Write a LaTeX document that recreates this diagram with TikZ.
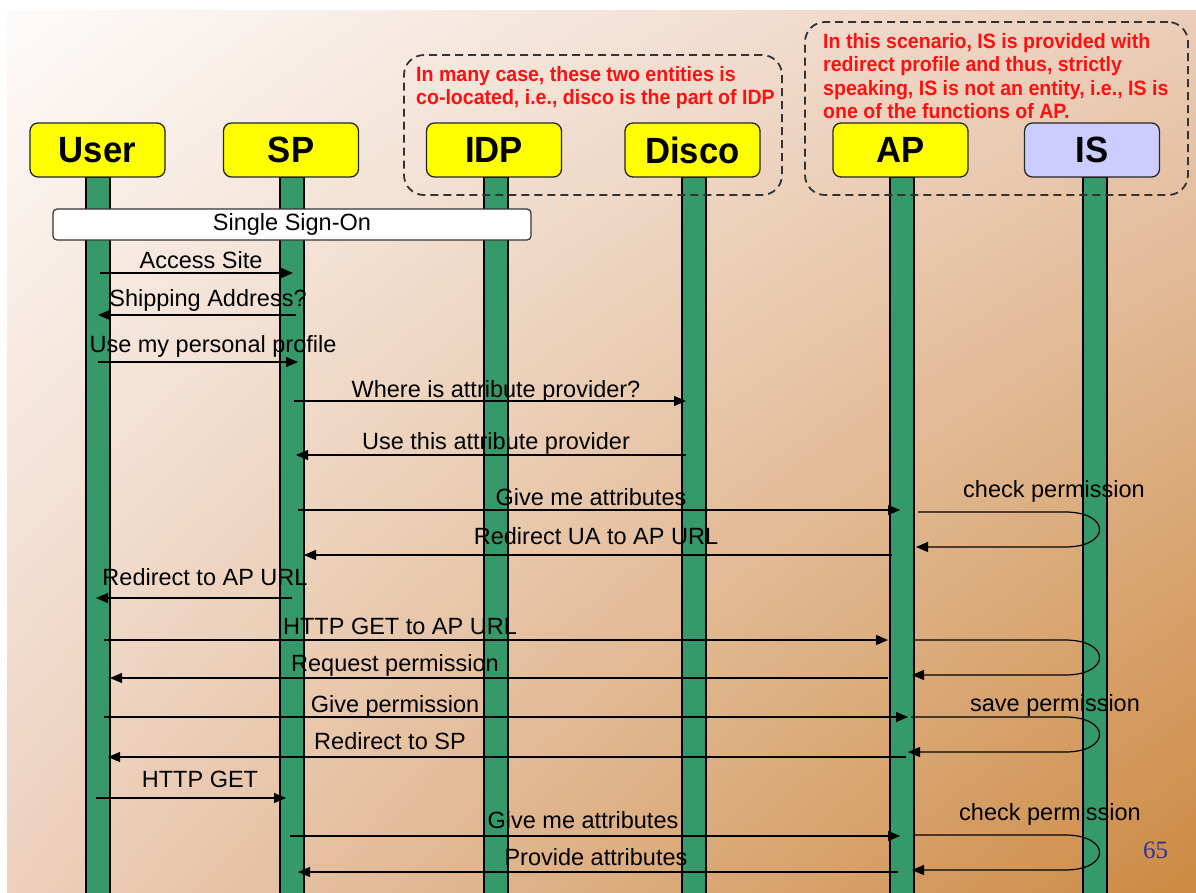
\documentclass[tikz,border=0pt]{standalone}
\usepackage{fontspec}
\setmainfont{Liberation Sans}
\newfontfamily\headfont[FakeStretch=0.95]{Liberation Sans}
\newfontfamily\notefont[FakeStretch=0.94]{Liberation Sans}
\newfontfamily\pagefont{Liberation Serif}
\usetikzlibrary{arrows.meta,calc,shadings}
\definecolor{lifegreen}{HTML}{35996A}
\definecolor{actoryellow}{HTML}{FFFF00}
\definecolor{islavender}{HTML}{CCCCFF}
\definecolor{notered}{HTML}{FF1010}
\definecolor{pagenum}{HTML}{333399}
\definecolor{bgTL}{HTML}{FDFBFA}
\definecolor{bgTR}{HTML}{EBCDB9}
\definecolor{bgBL}{HTML}{EDD0BD}
\definecolor{bgBR}{HTML}{CC8A42}
\begin{document}
\begin{tikzpicture}[x=1pt,y=-1pt,
  actor/.style={draw=black!85, line width=1.3pt, rounded corners=8pt, fill=actoryellow,
    minimum width=135pt, minimum height=54pt, inner sep=0pt,
    font=\headfont\bfseries\fontsize{36.5}{40}\selectfont},
  lifebar/.style={draw=black, line width=1.1pt, fill=lifegreen, minimum width=24pt,
    minimum height=720pt, inner sep=0pt, anchor=north},
  notebox/.style={draw=black!80, line width=1.8pt, dash pattern=on 8pt off 5pt,
    rounded corners=20pt, inner sep=0pt},
  notetext/.style={text=notered, align=left, anchor=north west, inner sep=0pt,
    font=\notefont\bfseries\fontsize{20.8}{23.5}\selectfont},
  msg/.style={draw=black, line width=1.2pt, -{Triangle[length=12pt,width=10pt]}},
  msglabel/.style={anchor=base, inner sep=0pt, font=\fontsize{23.5}{28}\selectfont},
  frame/.style={draw=black!80, line width=1.2pt, fill=white, rounded corners=4pt,
    inner sep=0pt, font=\fontsize{23.5}{28}\selectfont}
]
\useasboundingbox (0,0) rectangle (1196,892);
\fill[white] (0,0) rectangle (1196,892);
\shade[upper left=bgTL, upper right=bgTR, lower left=bgBL, lower right=bgBR]
  (7,10) rectangle (1196,892);

% lifelines
\node[lifebar] (userbar)  at (98,177)  {};
\node[lifebar] (spbar)    at (292,177) {};
\node[lifebar] (idpbar)   at (496,177) {};
\node[lifebar] (discobar) at (694,177) {};
\node[lifebar] (apbar)    at (902,177) {};
\node[lifebar] (isbar)    at (1095,177) {};

% participants
\node[actor] (user)  at (97.5,150)  {User};
\node[actor] (sp)    at (291,150)   {SP};
\node[actor] (idp)   at (494,150)   {IDP};
\node[actor] (disco) at (692.5,150) {Disco};
\node[actor] (ap)    at (900.5,150) {AP};
\node[actor, fill=islavender] (is) at (1092,150) {IS};

% remarks
\node[notebox, minimum width=378pt, minimum height=140pt] (note1) at (593,125) {};
\node[notetext] (note1text) at (416,66)
  {In many case, these two entities is\\co-located, i.e., disco is the part of IDP};
\node[notebox, minimum width=383pt, minimum height=173pt] (note2) at (996.5,108.5) {};
\node[notetext] (note2text) at (823,33)
  {In this scenario, IS is provided with\\redirect profile and thus, strictly\\speaking, IS is not an entity, i.e., IS is\\one of the functions of AP.};

% single sign-on frame
\node[frame, minimum width=478pt, minimum height=31pt] (sso) at (292,224.5) {\raisebox{-2pt}{Single Sign-On}};

% messages: \msgline{from bar}{dx}{to bar}{dx}{y}
\newcommand\msgline[5]{\draw[msg] ($(#1.center |- 0,#5)+(#2,0)$) -- ($(#3.center |- 0,#5)+(#4,0)$);}
\newcommand\selfcheck[5]{% from AP to AP round IS: x-offset start, y top, y bottom, x-offset end
  \draw[msg] ($(#1.center |- 0,#3)+(#2,0)$) -- ($(isbar.center |- 0,#3)+(-30,0)$)
    .. controls ($(isbar.center |- 0,#3)+(16,0)$) and ($(isbar.center |- 0,#4)+(16,0)$)
    .. ($(isbar.center |- 0,#4)+(-30,0)$) -- ($(#1.center |- 0,#4)+(#5,0)$);}

\msgline{userbar}{2}{spbar}{1}{273}
\node[msglabel] (m1) at (201,268) {Access Site};
\msgline{spbar}{4}{userbar}{0}{315}
\node[msglabel] (m2) at (208,306) {Shipping Address?};
\msgline{userbar}{0}{spbar}{6}{362}
\node[msglabel] (m3) at (213,352) {Use my personal profile};
\msgline{spbar}{2}{discobar}{-8}{401}
\node[msglabel] (m4) at (496,397) {Where is attribute provider?};
\msgline{discobar}{-8}{spbar}{4}{455}
\node[msglabel] (m5) at (496,449) {Use this attribute provider};
\msgline{spbar}{6}{apbar}{-2}{510}
\node[msglabel] (m6) at (591,505) {Give me attributes};
\selfcheck{apbar}{16}{512}{547}{14}
\node[msglabel] (c1) at (1054,497) {check permission};
\msgline{apbar}{-10}{spbar}{12}{555}
\node[msglabel] (m7) at (596,544) {Redirect UA to AP URL};
\msgline{spbar}{0}{userbar}{-2}{598}
\node[msglabel] (m8) at (205,585) {Redirect to AP URL};
\msgline{userbar}{6}{apbar}{-14}{640}
\node[msglabel] (m9) at (400,634) {HTTP GET to AP URL};
\selfcheck{apbar}{12}{640}{675}{10}
\msgline{apbar}{-14}{userbar}{12}{678}
\node[msglabel] (m10) at (395,671) {Request permission};
\msgline{userbar}{6}{apbar}{6}{717}
\node[msglabel] (m11) at (395,712) {Give permission};
\selfcheck{apbar}{9}{717}{752}{6}
\node[msglabel] (c2) at (1055,711) {save permission};
\msgline{apbar}{4}{userbar}{10}{757}
\node[msglabel] (m12) at (390,749) {Redirect to SP};
\msgline{userbar}{-2}{spbar}{-6}{798}
\node[msglabel] (m13) at (200,787) {HTTP GET};
\msgline{spbar}{-2}{apbar}{-2}{836}
\node[msglabel] (m14) at (583,828) {Give me attributes};
\selfcheck{apbar}{13}{835}{870}{10}
\node[msglabel] (c3) at (1050,820) {check permission};
\msgline{apbar}{-4}{spbar}{6}{872}
\node[msglabel] (m15) at (596,865) {Provide attributes};

% page number
\node[text=pagenum, inner sep=0pt, font=\pagefont\fontsize{25}{28}\selectfont] (page) at (1155.5,850) {65};
\end{tikzpicture}
\end{document}
